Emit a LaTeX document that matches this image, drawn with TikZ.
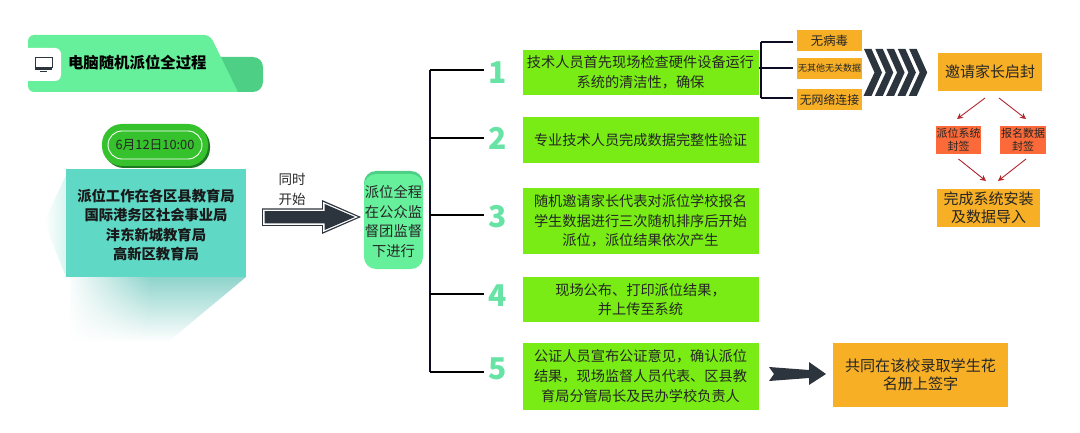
\documentclass[tikz,border=0pt]{standalone}
\usepackage{fontspec}
\setmainfont{Noto Sans CJK SC}
\usetikzlibrary{arrows.meta,fadings}
\definecolor{lime}{HTML}{78EC14}
\definecolor{amber}{HTML}{F7AF25}
\definecolor{tealbox}{HTML}{5FD8C6}
\definecolor{mint}{HTML}{66F09B}
\definecolor{mintdark}{HTML}{4DCF85}
\definecolor{digit}{HTML}{68E3A6}
\definecolor{slate}{HTML}{2C343E}
\definecolor{coral}{HTML}{FB6A38}
\definecolor{pillgreen}{HTML}{35C22C}
\definecolor{pillshade}{HTML}{1E7A22}
\definecolor{navyline}{HTML}{0B0B24}
\definecolor{redarrow}{HTML}{B3262E}
\definecolor{shadowteal}{HTML}{8FD4CC}
\tikzset{
  x=1pt,y=-1pt,
  flat/.style={inner sep=0pt,outer sep=0pt,align=center,text=black!85},
  limebox/.style={flat,fill=lime,minimum width=236pt,font=\fontsize{14.2}{19.6}\selectfont},
  amberbox/.style={flat,fill=amber},
  coralbox/.style={flat,fill=coral,minimum width=45pt,minimum height=28pt,font=\fontsize{11}{13.4}\selectfont},
  numeral/.style={flat,text=digit,font=\fontsize{30}{30}\selectfont\bfseries,minimum width=28pt,minimum height=24pt},
  trunk/.style={draw=navyline,line width=1.7pt},
  branch/.style={draw=black,line width=1.4pt},
  seal/.style={draw=redarrow,line width=0.9pt,-{Stealth[length=6pt,width=6pt]}}
}
\begin{document}
\begin{tikzpicture}
\useasboundingbox (0,0) rectangle (1080,433);
% fading shadows of the teal box
\shade[top color=shadowteal,middle color=shadowteal!35!white,bottom color=white,draw=none] (246,277) -- (168,342) -- (70,342) -- (70,277) -- cycle;
\fill[white,path fading=east] (66,274) rectangle (150,345);
\shade[left color=white,right color=tealbox!25!white,draw=none] (66,175) -- (44,222) -- (66,277) -- cycle;
% title banner
\fill[mintdark] (215,57) [rounded corners=10pt] -- (263,57) -- (263,92) [rounded corners=0pt] -- (236,92) -- cycle;
\fill[mint] (28,60) [rounded corners=6pt] -- (28,35) -- (210,35) [rounded corners=1pt] -- (238,92) [rounded corners=6pt] -- (28,92) -- cycle;
\fill[white] (28,48) [rounded corners=6pt] -- (61,48) -- (61,81) [rounded corners=0pt] -- (28,81) -- cycle;
\draw[slate,line width=1pt,fill=white] (35,58) rectangle (52,68);
\fill[slate] (35,68) rectangle (52,70);
\fill[slate] (40,71) rectangle (47,72.5);
\node[flat,anchor=west,text=black,font=\fontsize{15.4}{18}\selectfont\bfseries] (title) at (68,63) {电脑随机派位全过程};
% date pill
\fill[pillshade,rounded corners=20pt] (104,126) rectangle (210,168);
\node[flat,fill=pillgreen,rounded corners=20pt,minimum width=106pt,minimum height=42pt] (pill) at (155,145) {};
\node[flat,draw=white,line width=0.9pt,rounded corners=14pt,minimum width=94pt,minimum height=28pt,font=\fontsize{12.8}{15}\selectfont,text=black!85] (date) at (155,145) {6月12日10:00};
% teal box
\fill[tealbox] (66,169) rectangle (246,277);
\node[flat,text=black!90,font=\fontsize{14.3}{19.6}\selectfont\bfseries] (offices) at (156,225) {派位工作在各区县教育局\\国际港务区社会事业局\\沣东新城教育局\\高新区教育局};
% start arrow and label
\node[flat,font=\fontsize{13.5}{20}\selectfont] (sync) at (292,189) {同时\\开始};
\fill[slate] (262,208.5) -- (322,208.5) -- (322,200) -- (361,217) -- (322,234) -- (322,226) -- (262,226) -- cycle;
\fill[white] (263.2,209.7) -- (323.2,209.7) -- (323.2,202) -- (358,217) -- (323.2,232) -- (323.2,224.8) -- (263.2,224.8) -- cycle;
\fill[slate] (264.6,211.2) -- (324.6,211.2) -- (324.6,204) -- (355,217) -- (324.6,230) -- (324.6,223.4) -- (264.6,223.4) -- cycle;
% supervised node
\fill[mintdark,rounded corners=12pt] (364,171) rectangle (423,200);
\node[flat,fill=mint,rounded corners=12pt,minimum width=59pt,minimum height=95pt,font=\fontsize{14.3}{19.5}\selectfont] (public) at (393.5,221.5) {派位全程\\在公众监\\督团监督\\下进行};
% trunk
\coordinate (t1) at (430,70);
\coordinate (t2) at (430,138);
\coordinate (t3) at (430,215);
\coordinate (t4) at (430,294);
\coordinate (t5) at (430,372);
\node[numeral] (n1) at (498,73) {1};
\node[numeral] (n2) at (498,138) {2};
\node[numeral] (n3) at (498,217) {3};
\node[numeral] (n4) at (498,296) {4};
\node[numeral] (n5) at (498,369) {5};
\draw[trunk] (t1) -- (t5);
\foreach \k in {1,...,5} {\draw[branch] (t\k) -- (t\k -| n\k.west);}
% step boxes
\node[limebox,minimum height=45pt] (s1) at (640.5,72.5) {技术人员首先现场检查硬件设备运行\\系统的清洁性，确保};
\node[limebox,minimum height=46pt] (s2) at (640.5,140) {专业技术人员完成数据完整性验证};
\node[limebox,minimum height=66pt] (s3) at (640.5,221) {随机邀请家长代表对派位学校报名\\学生数据进行三次随机排序后开始\\派位，派位结果依次产生};
\node[limebox,minimum height=45pt] (s4) at (640.5,299.5) {现场公布、打印派位结果，\\并上传至系统};
\node[limebox,minimum height=67pt] (s5) at (640.5,376) {公证人员宣布公证意见，确认派位\\结果，现场监督人员代表、区县教\\育局分管局长及民办学校负责人};
% three checks
\node[amberbox,minimum width=65pt,minimum height=21pt,font=\fontsize{12.4}{14}\selectfont] (c1) at (829.5,40.5) {无病毒};
\node[amberbox,minimum width=65pt,minimum height=21pt,font=\fontsize{9}{11}\selectfont] (c2) at (829.5,68.5) {无其他无关数据};
\node[amberbox,minimum width=65pt,minimum height=21pt,font=\fontsize{11.9}{14}\selectfont] (c3) at (829.5,99.5) {无网络连接};
\coordinate (bktop) at (761,42);
\coordinate (bkmid) at (761,68);
\coordinate (bkbot) at (761,98);
\draw[trunk] (bktop) -- (bkbot);
\draw[trunk] (bktop) -- (793,42);
\draw[trunk] (s1.east |- bkmid) -- (793,68);
\draw[trunk] (bkbot) -- (793,98);
% chevrons
\foreach \cx in {864,875.3,886.6,897.9,909.2} {
  \fill[slate] (\cx,49) -- (\cx+7.5,49) -- (\cx+18,72.5) -- (\cx+7.5,96) -- (\cx-0.5,96) -- (\cx+10.5,72.5) -- cycle;
}
% right column
\node[amberbox,minimum width=104pt,minimum height=38pt,font=\fontsize{15}{18}\selectfont] (invite) at (990,72) {邀请家长启封};
\node[coralbox] (sealA) at (958.5,140) {派位系统\\封签};
\node[coralbox,minimum width=46pt] (sealB) at (1023,140) {报名数据\\封签};
\node[amberbox,minimum width=103pt,minimum height=38pt,font=\fontsize{15}{18}\selectfont] (done) at (988.5,208) {完成系统安装\\及数据导入};
\draw[seal] ([xshift=-5pt,yshift=-7pt]invite.south) -- ([xshift=-1.5pt,yshift=7pt]sealA.north);
\draw[seal] ([xshift=9pt,yshift=-7pt]invite.south) -- ([xshift=3pt,yshift=7pt]sealB.north);
\draw[seal] ([yshift=-5pt]sealA.south) -- ([xshift=-2.5pt,yshift=8pt]done.north);
\draw[seal] ([xshift=3pt,yshift=-5pt]sealB.south) -- ([xshift=9.5pt,yshift=8pt]done.north);
% sign box and its arrow
\node[amberbox,minimum width=175pt,minimum height=64pt,font=\fontsize{15.1}{18.4}\selectfont] (sign) at (920.5,375) {共同在该校录取学生花\\名册上签字};
\fill[slate] (769,367) -- (809,370) -- (809,362) -- (826,374) -- (809,385) -- (809,378) -- (769,381) -- (774,374) -- cycle;
\end{tikzpicture}
\end{document}
